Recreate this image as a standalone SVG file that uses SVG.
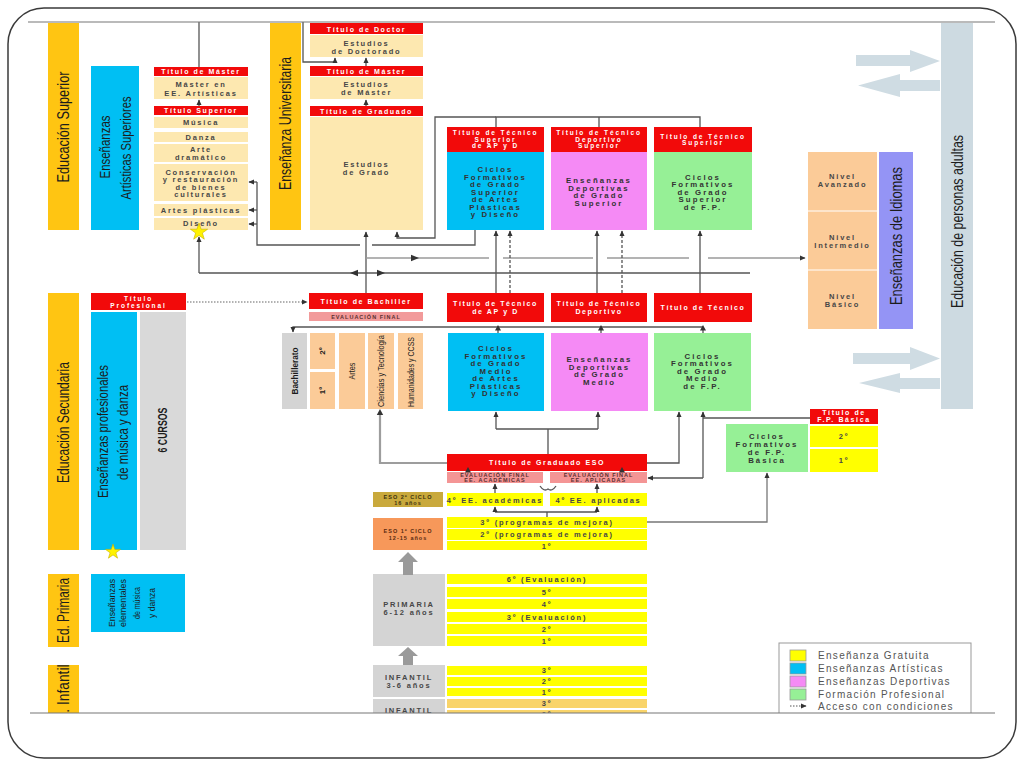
<svg xmlns="http://www.w3.org/2000/svg" width="1024" height="768" viewBox="0 0 1024 768">
<defs>
<style>
.r{fill:#F20A0A}
.b{fill:#FDE8B0}
.y{fill:#FFFF00}
.cy{fill:#00BFF3}
.pk{fill:#F58AF5}
.gr{fill:#96F096}
.or{fill:#FBCB98}
.g{fill:#D4D4D4}
.gd{fill:#FFC512}
.ev{fill:#F49595}
text{font-family:"Liberation Sans",Arial,sans-serif}
.t{font-size:7.5px;font-weight:bold;letter-spacing:1.8px;fill:#474747;text-anchor:middle}
.tw{font-size:7px;font-weight:bold;letter-spacing:1.6px;fill:#fff;text-anchor:middle}
.t6{font-size:6.5px;letter-spacing:1.9px}
.c{font-size:7.8px;font-weight:bold;letter-spacing:2.1px;fill:#333;text-anchor:middle}
.s{font-size:5.5px;font-weight:bold;letter-spacing:1px;fill:#5a3030;text-anchor:middle}
.v{text-anchor:middle;dominant-baseline:central;fill:#1c1c1c}
.ln{fill:none;stroke:#555;stroke-width:1.3}
.lt{fill:none;stroke:#9a9a9a;stroke-width:1.6}
.da{stroke-dasharray:3 2}
.ah{fill:#333}
.lg{font-size:10px;letter-spacing:1.3px;fill:#555}
.ba{fill:#CFDCE3}
</style>
<marker id="a" viewBox="0 0 10 10" refX="9" refY="5" markerWidth="6" markerHeight="6" markerUnits="userSpaceOnUse" orient="auto"><path d="M0,0.5 L10,5 L0,9.5z" fill="#333"/></marker>
<clipPath id="clip"><rect x="0" y="22" width="1024" height="691"/></clipPath>
</defs>
<rect width="1024" height="768" fill="#fff"/>
<rect x="8" y="8" width="1008" height="750" rx="36" fill="none" stroke="#3a3a3a" stroke-width="1.5"/>
<g clip-path="url(#clip)">

<g id="edu-superior">
<rect class="gd" x="48" y="23" width="31" height="207"/>
<text class="v" font-size="17" textLength="111" lengthAdjust="spacingAndGlyphs" transform="translate(63.5,127) rotate(-90)">Educación Superior</text>
</g>
<g id="artisticas-superiores">
<rect class="cy" x="91" y="66" width="48" height="164"/>
<text class="v" font-size="14.5" textLength="63" lengthAdjust="spacingAndGlyphs" transform="translate(105,147) rotate(-90)">Enseñanzas</text>
<text class="v" font-size="14.5" textLength="103" lengthAdjust="spacingAndGlyphs" transform="translate(126,148) rotate(-90)">Artísticas Superiores</text>
</g>
<g id="artisticas-titulos">
<rect class="r" x="154" y="67" width="94" height="9"/><text class="tw" x="201" y="74.2">Título de Máster</text>
<rect class="b" x="154" y="77" width="94" height="22"/><text class="t" x="201" y="86.5">Máster en</text><text class="t" x="201" y="95.5">EE. Artísticas</text>
<rect class="r" x="154" y="106" width="94" height="9"/><text class="tw" x="201" y="113.2">Título Superior</text>
<rect class="b" x="154" y="117" width="94" height="11"/><text class="t" x="201" y="125.2">Música</text>
<rect class="b" x="154" y="132" width="94" height="10"/><text class="t" x="201" y="139.7">Danza</text>
<rect class="b" x="154" y="144" width="94" height="18"/><text class="t" x="201" y="152.3">Arte</text><text class="t" x="201" y="159.7">dramático</text>
<rect class="b" x="154" y="164" width="94" height="37"/><text class="t" x="201" y="175">Conservación</text><text class="t" x="201" y="182.4">y restauración</text><text class="t" x="201" y="189.8">de bienes</text><text class="t" x="201" y="197.2">culturales</text>
<rect class="b" x="154" y="204" width="94" height="12"/><text class="t" x="201" y="212.6">Artes plásticas</text>
<rect class="b" x="154" y="218" width="94" height="12"/><text class="t" x="201" y="226.4">Diseño</text>
</g>

<g id="universitaria">
<rect class="gd" x="270" y="23" width="31" height="207"/>
<text class="v" font-size="17" textLength="133" lengthAdjust="spacingAndGlyphs" transform="translate(285.5,123.5) rotate(-90)">Enseñanza Universitaria</text>
</g>
<g id="univ-titulos">
<rect class="r" x="310" y="23" width="113" height="11"/><text class="tw" x="366.5" y="31.5">Título de Doctor</text>
<rect class="b" x="310" y="35" width="113" height="22"/><text class="t" x="366.5" y="45.5">Estudios</text><text class="t" x="366.5" y="53.5">de Doctorado</text>
<rect class="r" x="310" y="66" width="113" height="10"/><text class="tw" x="366.5" y="73.6">Título de Máster</text>
<rect class="b" x="310" y="77" width="113" height="22"/><text class="t" x="366.5" y="86.5">Estudios</text><text class="t" x="366.5" y="94.5">de Máster</text>
<rect class="r" x="310" y="106" width="113" height="10"/><text class="tw" x="366.5" y="113.6">Título de Graduado</text>
<rect class="b" x="310" y="117" width="113" height="113"/><text class="t" x="366.5" y="166.5">Estudios</text><text class="t" x="366.5" y="174.5">de Grado</text>
</g>

<g id="ap-superior">
<rect class="r" x="447" y="127" width="97" height="25"/>
<text class="tw t6" x="495.5" y="135.3">Título de Técnico</text><text class="tw t6" x="495.5" y="141.8">Superior</text><text class="tw t6" x="495.5" y="148.3">de AP y D</text>
<rect class="cy" x="447" y="152" width="97" height="78"/>
<text class="c" x="495.5" y="172.1">Ciclos</text><text class="c" x="495.5" y="179.6">Formativos</text><text class="c" x="495.5" y="187.1">de Grado</text><text class="c" x="495.5" y="194.6">Superior</text><text class="c" x="495.5" y="202.1">de Artes</text><text class="c" x="495.5" y="209.6">Plásticas</text><text class="c" x="495.5" y="217.1">y Diseño</text>
</g>
<g id="dep-superior">
<rect class="r" x="551" y="127" width="96" height="25"/>
<text class="tw t6" x="599" y="135.3">Título de Técnico</text><text class="tw t6" x="599" y="141.8">Deportivo</text><text class="tw t6" x="599" y="148.3">Superior</text>
<rect class="pk" x="551" y="152" width="96" height="78"/>
<text class="c" x="599" y="183.4">Enseñanzas</text><text class="c" x="599" y="190.9">Deportivas</text><text class="c" x="599" y="198.4">de Grado</text><text class="c" x="599" y="205.9">Superior</text>
</g>
<g id="fp-superior">
<rect class="r" x="654" y="127" width="98" height="25"/>
<text class="tw t6" x="703" y="138.6">Título de Técnico</text><text class="tw t6" x="703" y="145.1">Superior</text>
<rect class="gr" x="654" y="152" width="98" height="78"/>
<text class="c" x="703" y="179.6">Ciclos</text><text class="c" x="703" y="187.1">Formativos</text><text class="c" x="703" y="194.6">de Grado</text><text class="c" x="703" y="202.1">Superior</text><text class="c" x="703" y="209.6">de F.P.</text>
</g>

<g id="titulo-tecnico-ap">
<rect class="r" x="447" y="293" width="97" height="29"/>
<text class="tw" x="495.5" y="305.5">Título de Técnico</text><text class="tw" x="495.5" y="313.5">de AP y D</text>
</g>
<g id="titulo-tecnico-dep">
<rect class="r" x="551" y="293" width="96" height="29"/>
<text class="tw" x="599" y="305.5">Título de Técnico</text><text class="tw" x="599" y="313.5">Deportivo</text>
</g>
<g id="titulo-tecnico">
<rect class="r" x="654" y="293" width="98" height="29"/>
<text class="tw" x="703" y="309.8">Título de Técnico</text>
</g>

<g id="bachiller">
<rect class="r" x="309" y="293" width="114" height="16"/><text class="tw" x="366" y="303.5">Título de Bachiller</text>
<rect fill="#F29A9A" x="309" y="312" width="114" height="9"/><text class="s" x="366" y="318.8">EVALUACIÓN FINAL</text>
</g>
<g id="bachillerato">
<rect class="g" x="282" y="333" width="25" height="76"/>
<text class="v" font-size="9" font-weight="bold" textLength="47" lengthAdjust="spacingAndGlyphs" transform="translate(294.5,371) rotate(-90)">Bachillerato</text>
<rect class="or" x="310" y="333" width="25" height="36"/><text class="v" font-size="8" font-weight="bold" transform="translate(322.5,351) rotate(-90)">2º</text>
<rect class="or" x="310" y="372" width="25" height="37"/><text class="v" font-size="8" font-weight="bold" transform="translate(322.5,390.5) rotate(-90)">1º</text>
<rect class="or" x="339" y="333" width="26" height="76"/><text class="v" font-size="9" textLength="17" lengthAdjust="spacingAndGlyphs" transform="translate(352,371) rotate(-90)">Artes</text>
<rect class="or" x="368" y="333" width="26" height="76"/><text class="v" font-size="9" textLength="72" lengthAdjust="spacingAndGlyphs" transform="translate(381,371) rotate(-90)">Ciencias y Tecnología</text>
<rect class="or" x="398" y="333" width="25" height="76"/><text class="v" font-size="9" textLength="70" lengthAdjust="spacingAndGlyphs" transform="translate(410.5,372) rotate(-90)">Humanidades y CCSS</text>
</g>

<g id="edu-secundaria">
<rect class="gd" x="48" y="293" width="31" height="257"/>
<text class="v" font-size="17" textLength="121" lengthAdjust="spacingAndGlyphs" transform="translate(63.5,422.5) rotate(-90)">Educación Secundaria</text>
</g>
<g id="profesionales-musica">
<rect class="r" x="91" y="293" width="95" height="17"/>
<text class="tw t6" x="138.5" y="300.5">Título</text><text class="tw t6" x="138.5" y="308.3">Profesional</text>
<rect class="cy" x="91" y="312" width="46" height="238"/>
<text class="v" font-size="14.5" textLength="133" lengthAdjust="spacingAndGlyphs" transform="translate(102.5,431.5) rotate(-90)">Enseñanzas profesionales</text>
<text class="v" font-size="14.5" textLength="95" lengthAdjust="spacingAndGlyphs" transform="translate(122.5,432.5) rotate(-90)">de música y danza</text>
<rect fill="#D9D9D9" x="140" y="312" width="46" height="238"/>
<text class="v" font-size="12" font-weight="bold" textLength="45" lengthAdjust="spacingAndGlyphs" transform="translate(163,430) rotate(-90)">6 CURSOS</text>
</g>

<g id="ap-medio">
<rect class="cy" x="448" y="333" width="96" height="78"/>
<text class="c" x="496" y="351.1">Ciclos</text><text class="c" x="496" y="358.6">Formativos</text><text class="c" x="496" y="366.1">de Grado</text><text class="c" x="496" y="373.6">Medio</text><text class="c" x="496" y="381.1">de Artes</text><text class="c" x="496" y="388.6">Plásticas</text><text class="c" x="496" y="396.1">y Diseño</text>
</g>
<g id="dep-medio">
<rect class="pk" x="551" y="333" width="97" height="78"/>
<text class="c" x="599.5" y="362.4">Enseñanzas</text><text class="c" x="599.5" y="369.9">Deportivas</text><text class="c" x="599.5" y="377.4">de Grado</text><text class="c" x="599.5" y="384.9">Medio</text>
</g>
<g id="fp-medio">
<rect class="gr" x="654" y="333" width="97" height="78"/>
<text class="c" x="702.5" y="358.6">Ciclos</text><text class="c" x="702.5" y="366.1">Formativos</text><text class="c" x="702.5" y="373.6">de Grado</text><text class="c" x="702.5" y="381.1">Medio</text><text class="c" x="702.5" y="388.6">de F.P.</text>
</g>

<g id="fp-basica">
<rect class="r" x="810" y="409" width="68" height="15"/>
<text class="tw" font-size="5.5" letter-spacing="1" x="844" y="415">Título de</text><text class="tw" font-size="5.5" letter-spacing="1" x="844" y="422">F.P. Básica</text>
<rect class="y" x="810" y="426" width="68" height="21"/><text class="t" x="844" y="439">2º</text>
<rect class="y" x="810" y="449" width="68" height="23"/><text class="t" x="844" y="463">1º</text>
<rect class="gr" x="726" y="424" width="82" height="48"/>
<text class="c" x="767" y="438.5">Ciclos</text><text class="c" x="767" y="446.5">Formativos</text><text class="c" x="767" y="454.5">de F.P.</text><text class="c" x="767" y="462.5">Básica</text>
</g>

<g id="eso">
<rect class="r" x="447" y="454" width="200" height="17"/><text class="tw" font-size="7.5" letter-spacing="2" x="547" y="465">Título de Graduado ESO</text>
<rect class="ev" x="447" y="472" width="96" height="11"/><text class="s" font-size="5" x="495" y="477">EVALUACIÓN FINAL</text><text class="s" font-size="5" x="495" y="482.3">EE. ACADÉMICAS</text>
<rect class="ev" x="550" y="472" width="97" height="11"/><text class="s" font-size="5" x="598.5" y="477">EVALUACIÓN FINAL</text><text class="s" font-size="5" x="598.5" y="482.3">EE. APLICADAS</text>
<rect fill="#C9A93C" x="373" y="492" width="70" height="15"/><text class="s" font-size="6" x="408" y="498.8" style="fill:#3d3210">ESO 2º CICLO</text><text class="s" style="fill:#3d3210" x="408" y="504.5">16 años</text>
<rect class="y" x="447" y="493" width="96" height="13"/><text class="t" x="495" y="502.5">4º EE. académicas</text>
<rect class="y" x="550" y="493" width="97" height="13"/><text class="t" x="598.5" y="502.5">4º EE. aplicadas</text>
<rect fill="#F7985A" x="373" y="518" width="70" height="32"/><text class="s" font-size="6" style="fill:#5a2a10" x="408" y="533">ESO 1º CICLO</text><text class="s" style="fill:#5a2a10" x="408" y="539.5">12-15 años</text>
<rect class="y" x="447" y="517" width="200" height="11"/><text class="t" x="547" y="525.3">3º (programas de mejora)</text>
<rect class="y" x="447" y="529" width="200" height="11"/><text class="t" x="547" y="537.3">2º (programas de mejora)</text>
<rect class="y" x="447" y="541" width="200" height="9"/><text class="t" x="547" y="548.5">1º</text>
</g>

<g id="ed-primaria">
<rect class="gd" x="48" y="574" width="31" height="73"/>
<text class="v" font-size="16" textLength="65" lengthAdjust="spacingAndGlyphs" transform="translate(63.5,610.5) rotate(-90)">Ed. Primaria</text>
</g>
<g id="elementales-musica">
<rect class="cy" x="91" y="574" width="94" height="58"/>
<text class="v" font-size="9" textLength="48" lengthAdjust="spacingAndGlyphs" transform="translate(112,603) rotate(-90)">Enseñanzas</text>
<text class="v" font-size="9" textLength="48" lengthAdjust="spacingAndGlyphs" transform="translate(123,603) rotate(-90)">elementales</text>
<text class="v" font-size="9" textLength="32" lengthAdjust="spacingAndGlyphs" transform="translate(137,603) rotate(-90)">de música</text>
<text class="v" font-size="9" textLength="30" lengthAdjust="spacingAndGlyphs" transform="translate(152,603) rotate(-90)">y danza</text>
</g>
<g id="primaria">
<rect class="g" x="373" y="574" width="72" height="72"/>
<text class="t" font-size="6.5" x="409" y="607">PRIMARIA</text><text class="t" font-size="6.5" x="409" y="614.5">6-12 años</text>
<rect class="y" x="447" y="574" width="200" height="10"/><text class="t" x="547" y="581.8">6º (Evaluación)</text>
<rect class="y" x="447" y="587" width="200" height="10"/><text class="t" x="547" y="594.6">5º</text>
<rect class="y" x="447" y="599" width="200" height="10"/><text class="t" x="547" y="606.8">4º</text>
<rect class="y" x="447" y="612" width="200" height="10"/><text class="t" x="547" y="619.6">3º (Evaluación)</text>
<rect class="y" x="447" y="624" width="200" height="10"/><text class="t" x="547" y="631.8">2º</text>
<rect class="y" x="447" y="636" width="200" height="10"/><text class="t" x="547" y="643.8">1º</text>
</g>

<g id="ed-infantil">
<rect class="gd" x="48" y="665" width="31" height="80"/>
<text class="v" font-size="16" textLength="65" lengthAdjust="spacingAndGlyphs" transform="translate(63.5,697) rotate(-90)">Ed. Infantil</text>
</g>
<g id="infantil-3-6">
<rect class="g" x="373" y="665" width="72" height="32"/>
<text class="t" font-size="6.5" x="409" y="680">INFANTIL</text><text class="t" font-size="6.5" x="409" y="687.5">3-6 años</text>
<rect class="y" x="447" y="666" width="200" height="9"/><text class="t" x="547" y="673.2">3º</text>
<rect class="y" x="447" y="677" width="200" height="9"/><text class="t" x="547" y="684.2">2º</text>
<rect class="y" x="447" y="688" width="200" height="8"/><text class="t" x="547" y="694.6">1º</text>
</g>
<g id="infantil-0-3">
<rect class="g" x="373" y="699" width="72" height="40"/>
<text class="t" font-size="6.5" x="409" y="712.5">INFANTIL</text>
<rect fill="#F9D46A" x="447" y="699" width="200" height="9"/><text class="t" x="547" y="706.4">3º</text>
<rect fill="#F9D46A" x="447" y="710" width="200" height="9"/><text class="t" x="547" y="717.4">2º</text>
</g>

<g id="idiomas">
<rect class="or" x="808" y="152" width="69" height="177"/>
<line x1="808" y1="211" x2="877" y2="211" stroke="#fff" stroke-width="1"/>
<line x1="808" y1="270" x2="877" y2="270" stroke="#fff" stroke-width="1"/>
<text class="t" font-size="7" letter-spacing="1.4" x="842.5" y="178.5">Nivel</text><text class="t" font-size="7" letter-spacing="1.4" x="842.5" y="186.5">Avanzado</text>
<text class="t" font-size="7" letter-spacing="1.4" x="842.5" y="239.5">Nivel</text><text class="t" font-size="7" letter-spacing="1.4" x="842.5" y="248">Intermedio</text>
<text class="t" font-size="7" letter-spacing="1.4" x="842.5" y="298.5">Nivel</text><text class="t" font-size="7" letter-spacing="1.4" x="842.5" y="306.5">Básico</text>
<rect fill="#9494F5" x="879" y="152" width="34" height="177"/>
<text class="v" font-size="16" textLength="138" lengthAdjust="spacingAndGlyphs" transform="translate(896,236) rotate(-90)">Enseñanzas de Idiomas</text>
</g>

<g id="adultos">
<rect fill="#CDDAE1" x="941" y="23" width="32" height="386"/>
<text class="v" font-size="17" textLength="173" lengthAdjust="spacingAndGlyphs" transform="translate(957,221.5) rotate(-90)">Educación de personas adultas</text>
<polygon class="ba" points="856,55 910,55 910,50 940,61 910,72 910,66 856,66"/>
<polygon class="ba" points="940,80 900,80 900,74 858,85.5 900,97 900,91 940,91"/>
<polygon class="ba" points="853,353 910,353 910,347 940,358.5 910,370 910,364 853,364"/>
<polygon class="ba" points="940,378 900,378 900,373 859,383 900,393 900,389 940,389"/>
</g>

<g id="stars" fill="#FFF200" stroke="#C8B000" stroke-width="0.6">
<polygon points="199,223 201.1,229.2 207.6,229.2 202.4,233 204.3,239.2 199,235.4 193.7,239.2 195.6,233 190.4,229.2 196.9,229.2"/>
<polygon points="113,544 114.8,549.4 120.5,549.4 115.9,552.8 117.6,558.2 113,554.9 108.4,558.2 110.1,552.8 105.5,549.4 111.2,549.4"/>
</g>

<g id="connectors">
<path class="ln" d="M199,22 V67"/>
<path class="ln" d="M303,22 V62 H335 V58" marker-end="url(#a)"/>
<path class="ln" d="M366,66 V58" marker-end="url(#a)"/>
<path class="ln" d="M366,106 V100" marker-end="url(#a)"/>
<path class="ln" d="M199,106 V100" marker-end="url(#a)"/>
<path class="ln" d="M475,230 V245 H372"/>
<path class="ln" d="M360,245 H257 V182"/>
<path class="ln" d="M257,182 H249" marker-end="url(#a)"/>
<path class="ln" d="M257,210 H249" marker-end="url(#a)"/>
<path class="ln" d="M257,224 H249" marker-end="url(#a)"/>
<path class="ln" d="M496,127 V117 H700 V127"/>
<path class="ln" d="M599,117 V127"/>
<path class="ln" d="M496,117 H435 V238 H397 V232" marker-end="url(#a)"/>
<path class="ln" d="M366,293 V232" marker-end="url(#a)"/>
<path class="lt" d="M366,258 H489 M503,258 H593 M607,258 H689 M708,258 H805" marker-end="url(#a)"/>
<polygon class="ah" points="419,258 411,254.8 411,261.2"/>
<path class="ln" d="M199,273 H750"/>
<path class="ln" d="M199,273 V237" marker-end="url(#a)"/>
<polygon class="ah" points="350,273 358,269.8 358,276.2"/>
<polygon class="ah" points="385,273 377,269.8 377,276.2"/>
<path class="ln" d="M496,293 V231" marker-end="url(#a)"/>
<path class="ln da" d="M510,293 V231" marker-end="url(#a)"/>
<path class="ln" d="M597,293 V231" marker-end="url(#a)"/>
<path class="ln da" d="M622,293 V231" marker-end="url(#a)"/>
<path class="ln" d="M700,293 V231" marker-end="url(#a)"/>
<path fill="none" stroke="#999" stroke-width="1.4" stroke-dasharray="1.5 1.5" d="M187,302 H307" marker-end="url(#a)"/>
<path class="ln" d="M703,327 H293 V332" marker-end="url(#a)"/>
<path class="ln" d="M498,333 V327 M601,333 V327 M703,333 V327"/>
<polygon class="ah" points="498,325 495,330.5 501,330.5"/>
<polygon class="ah" points="601,325 598,330.5 604,330.5"/>
<polygon class="ah" points="703,325 700,330.5 706,330.5"/>
<path fill="none" stroke="#9d9d9d" stroke-width="2.2" d="M447,463 H380 V412"/>
<polygon class="ah" points="380,409 376.8,415 383.2,415"/>
<path class="ln" d="M548,454 V429 M496,429 H598"/>
<path class="ln" d="M496,429 V412" marker-end="url(#a)"/>
<path class="ln" d="M598,429 V412" marker-end="url(#a)"/>
<path class="ln" d="M647,463 H679 V412" marker-end="url(#a)"/>
<path class="ln" d="M810,418 H703"/>
<path class="ln" d="M703,478 V412" marker-end="url(#a)"/>
<path class="ln" d="M703,478 H648" marker-end="url(#a)"/>
<path class="ln" d="M495,493 V484" marker-end="url(#a)"/>
<path class="ln" d="M597,493 V484" marker-end="url(#a)"/>
<path class="ln" d="M540,486 Q544,492 548,489 Q552,492 556,486"/>
<polygon class="ah" points="468,467 465,472.5 471,472.5"/>
<polygon class="ah" points="622,467 619,472.5 625,472.5"/>
<path class="ln" d="M547,517 V512 M495,512 H597"/>
<path class="ln" d="M495,512 V507" marker-end="url(#a)"/>
<path class="ln" d="M597,512 V507" marker-end="url(#a)"/>
<path fill="none" stroke="#777" stroke-width="1.3" d="M647,522 H767 V473" marker-end="url(#a)"/>
<polygon fill="#9a9a9a" points="408,552 418,562 413,562 413,575 403,575 403,562 398,562"/>
<polygon fill="#9a9a9a" points="408,647 418,656 413,656 413,665 403,665 403,656 398,656"/>
</g>

<g id="legend">
<rect x="779" y="643" width="192" height="90" fill="#fff" stroke="#999" stroke-width="1"/>
<rect x="790" y="650" width="16" height="11" fill="#FFFF00" stroke="#999" stroke-width="0.8"/>
<rect x="790" y="663" width="16" height="11" fill="#00BFF3" stroke="#999" stroke-width="0.8"/>
<rect x="790" y="676" width="16" height="11" fill="#F58AF5" stroke="#999" stroke-width="0.8"/>
<rect x="790" y="689" width="16" height="11" fill="#96F096" stroke="#999" stroke-width="0.8"/>
<path fill="none" stroke="#555" stroke-width="1" stroke-dasharray="1.5 1.5" d="M790,706 H806" marker-end="url(#a)"/>
<text class="lg" x="818" y="659">Enseñanza Gratuita</text>
<text class="lg" x="818" y="672">Enseñanzas Artísticas</text>
<text class="lg" x="818" y="685">Enseñanzas Deportivas</text>
<text class="lg" x="818" y="698">Formación Profesional</text>
<text class="lg" x="818" y="710">Acceso con condiciones</text>
</g>
</g>
<line x1="28" y1="22" x2="995" y2="22" stroke="#777" stroke-width="1.2"/>
<line x1="30" y1="713" x2="995" y2="713" stroke="#777" stroke-width="1.2"/>
</svg>
